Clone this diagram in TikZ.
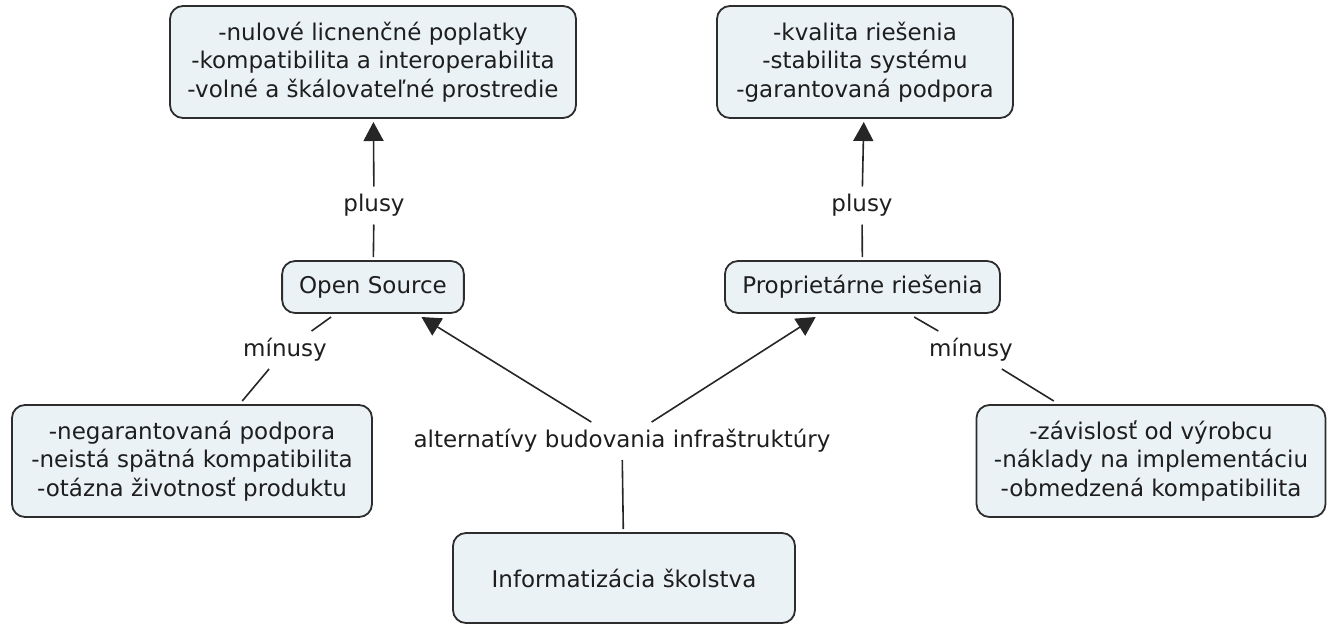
\documentclass[tikz,border=0pt]{standalone}
\usepackage{fontspec}
\setmainfont{DejaVu Sans}
\usetikzlibrary{arrows.meta}
\definecolor{boxfill}{RGB}{234,242,245}
\definecolor{boxline}{RGB}{45,45,45}
\definecolor{txt}{RGB}{30,30,30}
\begin{document}
\begin{tikzpicture}[x=1pt,y=-1pt,
  every node/.style={font=\fontsize{23}{28.5}\selectfont, text=txt},
  concept/.style={draw=boxline, line width=1.8pt, fill=boxfill, rounded corners=13pt, align=center, inner xsep=17pt, inner ysep=0pt, outer sep=4pt},
  linkphrase/.style={inner xsep=4pt, inner ysep=8pt, text height=17pt, text depth=5pt, outer sep=0pt},
  conn/.style={draw=black!85, line width=1.6pt},
  arr/.style={conn, -{Triangle[length=19pt,width=20pt]}},
]
\useasboundingbox (0,0) rectangle (1329,626);

\node[concept, minimum width=406pt, minimum height=112pt] (tl) at (373,62)
  {-nulové licnenčné poplatky\\-kompatibilita a interoperabilita\\-volné a škálovateľné prostredie};
\node[concept, minimum width=296pt, minimum height=112pt] (tr) at (865,62)
  {-kvalita riešenia\\-stabilita systému\\-garantovaná podpora};
\node[concept, minimum width=180pt, minimum height=52pt] (os) at (373,287) {Open Source};
\node[concept, minimum width=275pt, minimum height=52pt] (pr) at (862.5,287) {Proprietárne riešenia};
\node[concept, minimum width=360pt, minimum height=112pt] (lb) at (192,461)
  {-negarantovaná podpora\\-neistá spätná kompatibilita\\-otázna životnosť produktu};
\node[concept, minimum width=349pt, minimum height=112pt] (rb) at (1151,461)
  {-závislosť od výrobcu\\-náklady na implementáciu\\-obmedzená kompatibilita};
\node[concept, minimum width=342pt, minimum height=90pt] (is) at (624,578) {Informatizácia školstva};

\node[linkphrase] (lab) at (622,441) {alternatívy budovania infraštruktúry};
\node[linkphrase] (pos) at (374,205.5) {plusy};
\node[linkphrase] (ppr) at (862,205.5) {plusy};
\node[linkphrase] (mos) at (285,350) {mínusy};
\node[linkphrase] (mpr) at (971,350) {mínusy};

\draw[conn] (is) -- (lab);
\draw[arr] (lab) -- (os);
\draw[arr] (lab) -- (pr);
\draw[conn] (os) -- (pos);
\draw[arr] (pos) -- (tl);
\draw[conn] (pr) -- (ppr);
\draw[arr] (ppr) -- (tr);
\draw[conn] (os) -- (mos);
\draw[conn] (mos) -- (lb);
\draw[conn] (pr) -- (mpr);
\draw[conn] (mpr) -- (rb);
\end{tikzpicture}
\end{document}
